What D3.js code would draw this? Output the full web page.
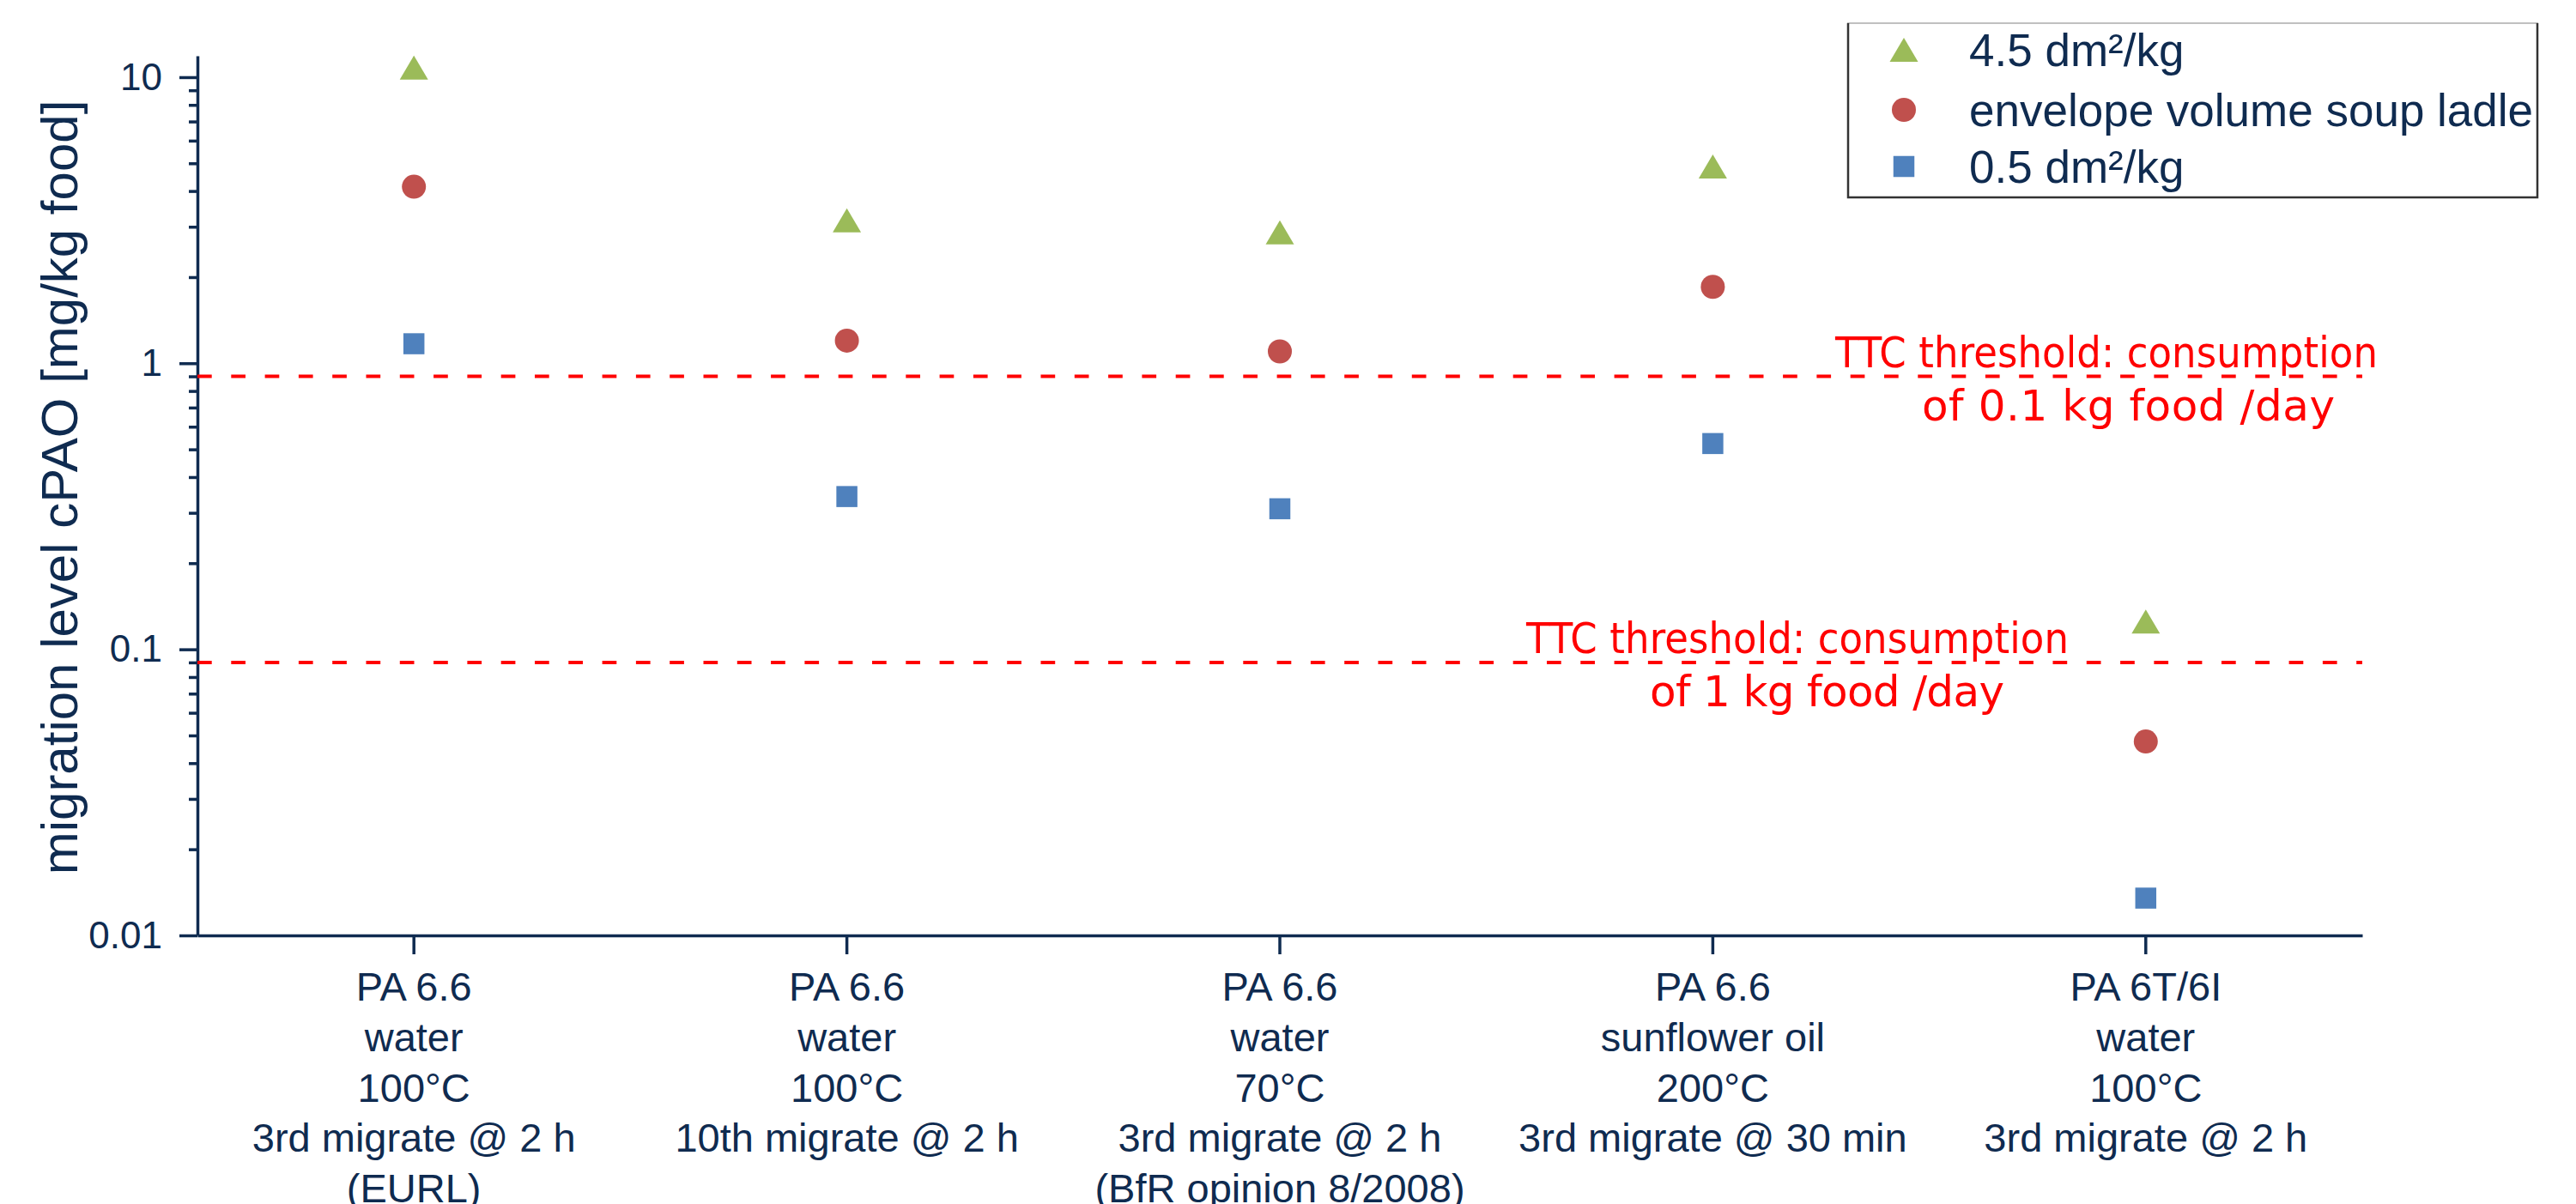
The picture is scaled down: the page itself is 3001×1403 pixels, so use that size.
<!DOCTYPE html>
<html>
<head>
<meta charset="utf-8">
<script src="https://cdn.jsdelivr.net/npm/d3@7"></script>
<style>
  body { margin: 0; background: #fff; }
  svg { display: block; }
</style>
</head>
<body>
<div id="chart"></div>
<script>
// categories (one label line per entry)
const categories = [
  ["PA 6.6", "water", "100°C", "3rd migrate @ 2 h", "(EURL)"],
  ["PA 6.6", "water", "100°C", "10th migrate @ 2 h"],
  ["PA 6.6", "water", "70°C", "3rd migrate @ 2 h", "(BfR opinion 8/2008)"],
  ["PA 6.6", "sunflower oil", "200°C", "3rd migrate @ 30 min"],
  ["PA 6T/6I", "water", "100°C", "3rd migrate @ 2 h"]
];

// migration levels, mg/kg food
const seriesNames = ["4.5 dm²/kg", "envelope volume soup ladle", "0.5 dm²/kg"];
const high = [10.8, 3.16, 2.87, 4.87, 0.125];
const ladle = [4.14, 1.20, 1.10, 1.85, 0.0476];
const low = [1.17, 0.342, 0.31, 0.524, 0.0135];

const majorTicks = [0.01, 0.1, 1, 10];
const majorLabels = ["0.01", "0.1", "1", "10"];

const thresholds = [0.9, 0.09];
const thresholdLabels = [
  ["TTC threshold: consumption", "of 0.1 kg food /day"],
  ["TTC threshold: consumption", "of 1 kg food /day"]
];

const W = 3001, H = 1403;
const navy = "#0f2b50";
const colors = ["#9bbb59", "#c0504d", "#4f81bd"];
const shapes = ["triangle", "circle", "square"];

const plot = {left: 230, right: 2752, top: 65, bottom: 1090};

const svg = d3.select("#chart").append("svg")
    .attr("width", W)
    .attr("height", H);

const x = d3.scaleBand()
    .domain(d3.range(categories.length))
    .range([plot.left, plot.right]);

const y = d3.scaleLog()
    .domain([0.01, 11.88])
    .range([plot.bottom, plot.top]);

const cx = i => x(i) + x.bandwidth() / 2;

// marker drawing
function marker(sel, shape, color) {
    if (shape === "triangle") {
        sel.append("path").attr("d", "M0,-14L16.5,14L-16.5,14Z").attr("fill", color);
    } else if (shape === "circle") {
        sel.append("circle").attr("r", 14).attr("fill", color);
    } else {
        sel.append("rect").attr("x", -12.25).attr("y", -12.25)
            .attr("width", 24.5).attr("height", 24.5).attr("fill", color);
    }
}

// minor ticks
const minorTicks = [];
for (let e = -2; e <= 0; e++) {
    for (let m = 2; m <= 9; m++) minorTicks.push(m * Math.pow(10, e));
}

const yMinor = svg.append("g")
    .attr("transform", `translate(${plot.left},0)`)
    .call(d3.axisLeft(y).tickValues(minorTicks).tickSize(10).tickSizeOuter(0).tickFormat(""));
yMinor.select(".domain").remove();

const yAxis = svg.append("g")
    .attr("transform", `translate(${plot.left},0)`)
    .call(d3.axisLeft(y).tickValues(majorTicks).tickSize(21).tickSizeOuter(0).tickPadding(20)
        .tickFormat((d, i) => majorLabels[i]));

yAxis.selectAll("text")
    .style("font-family", "'Liberation Sans', Arial, sans-serif")
    .style("font-size", "44px")
    .attr("fill", navy);

const xAxis = svg.append("g")
    .attr("transform", `translate(0,${plot.bottom})`)
    .call(d3.axisBottom(d3.scaleLinear().range([plot.left, plot.right]))
        .tickValues([]).tickSizeOuter(0));

// category ticks at centres
const xTicks = svg.append("g")
    .attr("transform", `translate(0,${plot.bottom})`)
    .call(d3.axisBottom(x).tickSize(22).tickSizeOuter(0).tickFormat(""));
xTicks.select(".domain").remove();

svg.selectAll(".domain, .tick line")
    .attr("stroke", navy)
    .attr("stroke-width", 3.5);

// category labels
const catLabels = svg.append("g").selectAll("text")
    .data(categories)
    .enter().append("text")
    .attr("x", (d, i) => cx(i))
    .attr("y", plot.bottom + 76)
    .attr("text-anchor", "middle")
    .style("font-family", "'Liberation Sans', Arial, sans-serif")
    .style("font-size", "47px")
    .attr("fill", navy);

catLabels.selectAll("tspan")
    .data(d => d)
    .enter().append("tspan")
    .attr("x", function() { return this.parentNode.getAttribute("x"); })
    .attr("dy", (d, i) => i === 0 ? 0 : 58.8)
    .text(d => d);

// y title
svg.append("text")
    .attr("transform", "rotate(-90)")
    .attr("x", -568)
    .attr("y", 90)
    .attr("text-anchor", "middle")
    .style("font-family", "'Liberation Sans', Arial, sans-serif")
    .style("font-size", "60px")
    .attr("fill", navy)
    .text("migration level cPAO [mg/kg food]");

// threshold lines
svg.append("g").selectAll("line")
    .data(thresholds)
    .enter().append("line")
    .attr("x1", plot.left)
    .attr("x2", plot.right)
    .attr("y1", d => y(d))
    .attr("y2", d => y(d))
    .attr("stroke", "#ff0000")
    .attr("stroke-width", 4)
    .attr("stroke-dasharray", "16.7 22.6");

// start x and width of each threshold text line
const labelStarts = [[2138, 2239], [1778, 1922]];
const labelWidths = [[632, 481], [632, 413]];

thresholds.forEach((t, k) => {
    thresholdLabels[k].forEach((line, j) => {
        svg.append("text")
            .attr("x", labelStarts[k][j])
            .attr("y", y(t) + (j === 0 ? -11 : 51))
            .attr("textLength", labelWidths[k][j])
            .attr("lengthAdjust", "spacing")
            .style("font-family", j === 0
                ? "'DejaVu Sans Condensed', 'DejaVu Sans', sans-serif"
                : "'DejaVu Sans', sans-serif")
            .style("font-stretch", j === 0 ? "condensed" : "normal")
            .style("font-size", "50px")
            .attr("fill", "#ff0000")
            .text(line);
    });
});

// data points
const series = [high, ladle, low];
series.forEach((vals, s) => {
    svg.append("g").selectAll("g")
        .data(vals)
        .enter().append("g")
        .attr("transform", (d, i) => `translate(${cx(i)},${y(d)})`)
        .each(function() { marker(d3.select(this), shapes[s], colors[s]); });
});

// legend
const legend = svg.append("g");
legend.append("rect")
    .attr("x", 2153).attr("y", 27)
    .attr("width", 803).attr("height", 203)
    .attr("fill", "#fff")
    .attr("stroke", "#c0c0c0")
    .attr("stroke-width", 2);
legend.append("path")
    .attr("d", "M2153,27V230H2956V27")
    .attr("fill", "none")
    .attr("stroke", "#333")
    .attr("stroke-width", 2.5);

const rowY = [58, 128, 194];
seriesNames.forEach((name, s) => {
    const g = legend.append("g").attr("transform", `translate(2218,${rowY[s]})`);
    marker(g, shapes[s], colors[s]);
    legend.append("text")
        .attr("x", 2294)
        .attr("y", rowY[s] + 19)
        .style("font-family", "'Liberation Sans', Arial, sans-serif")
        .style("font-size", "53px")
        .attr("fill", navy)
        .text(name);
});
</script>
</body>
</html>
